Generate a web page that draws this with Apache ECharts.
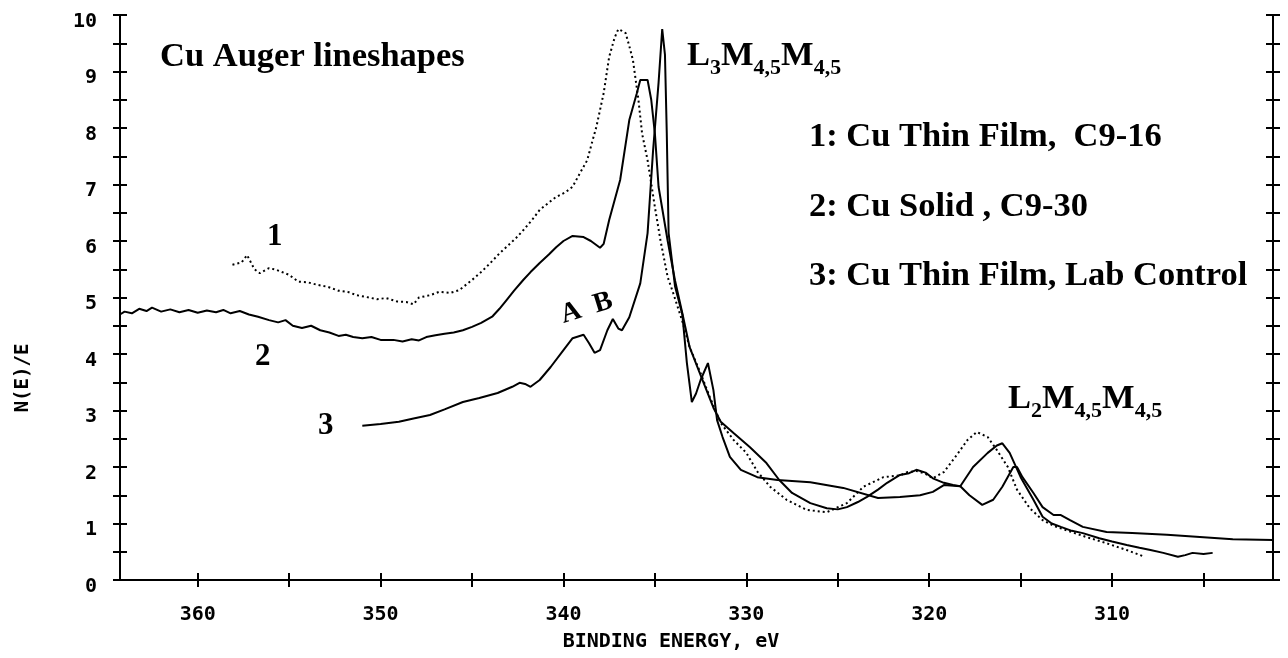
<!DOCTYPE html>
<html lang="en">
<head>
    <meta charset="UTF-8">
    <title>Cu Auger lineshapes</title>
    <script type="text/javascript" src="https://cdn.jsdelivr.net/npm/echarts@6.0.0/dist/echarts.min.js"></script>
    <style>
        html, body { margin: 0; padding: 0; background: #fff; }
    </style>
</head>
<body>
    <div id="main" style="width: 1288px; height: 658px"></div>
    <script>
        // binding energy (eV), N(E)/E
        var film1 = [
            [358.1, 5.58], [357.6, 5.62], [357.3, 5.75], [356.9, 5.5], [356.6, 5.43], [356.1, 5.52],
            [355.7, 5.49], [355.0, 5.4], [354.5, 5.28], [354.0, 5.27], [353.4, 5.22], [352.9, 5.19],
            [352.3, 5.12], [351.8, 5.1], [351.3, 5.04], [350.8, 5.01], [350.2, 4.97], [349.7, 4.99],
            [349.1, 4.93], [348.6, 4.92], [348.2, 4.88], [347.9, 5.0], [347.3, 5.04], [346.8, 5.1],
            [346.2, 5.08], [345.7, 5.13], [345.0, 5.31], [344.5, 5.45], [344.0, 5.61], [343.5, 5.78],
            [343.1, 5.9], [342.6, 6.05], [342.2, 6.19], [341.7, 6.38], [341.3, 6.55], [340.8, 6.68],
            [340.4, 6.78], [339.9, 6.86], [339.5, 6.96], [339.1, 7.2], [338.7, 7.43], [338.4, 7.79],
            [338.2, 8.02], [338.0, 8.32], [337.8, 8.62], [337.5, 9.26], [337.2, 9.6], [337.0, 9.75],
            [336.8, 9.72], [336.6, 9.68], [336.4, 9.45], [336.2, 9.2], [335.9, 8.5], [335.7, 7.9],
            [335.4, 7.43], [335.0, 6.6], [334.7, 6.02], [334.3, 5.36], [334.0, 5.08], [333.5, 4.58],
            [333.1, 4.12], [332.5, 3.66], [332.0, 3.24], [331.4, 2.78], [330.7, 2.48], [330.0, 2.25],
            [329.4, 1.92], [328.7, 1.65], [327.8, 1.42], [326.7, 1.24], [325.6, 1.2], [324.5, 1.36],
            [323.6, 1.65], [322.5, 1.82], [321.6, 1.85], [321.2, 1.91], [320.7, 1.93], [320.2, 1.88],
            [319.8, 1.8], [319.2, 1.91], [318.5, 2.21], [317.9, 2.48], [317.4, 2.62], [316.8, 2.53],
            [316.3, 2.3], [315.7, 2.0], [315.2, 1.6], [314.5, 1.27], [313.8, 1.06], [313.2, 0.96],
            [312.5, 0.88], [311.4, 0.76], [310.3, 0.65], [309.2, 0.53], [308.3, 0.42]
        ];

        var solid2 = [
            [364.3, 4.69], [364.0, 4.75], [363.6, 4.72], [363.2, 4.8], [362.8, 4.76], [362.5, 4.82],
            [362.0, 4.75], [361.5, 4.79], [361.0, 4.74], [360.5, 4.78], [360.0, 4.73], [359.5, 4.77],
            [359.0, 4.74], [358.6, 4.78], [358.2, 4.72], [357.7, 4.76], [357.2, 4.7], [356.7, 4.66],
            [356.1, 4.6], [355.6, 4.56], [355.2, 4.6], [354.8, 4.5], [354.3, 4.46], [353.8, 4.5],
            [353.3, 4.42], [352.8, 4.38], [352.3, 4.32], [351.9, 4.34], [351.5, 4.3], [351.0, 4.28],
            [350.5, 4.3], [350.0, 4.25], [349.3, 4.25], [348.8, 4.22], [348.3, 4.26], [347.9, 4.24],
            [347.5, 4.3], [347.0, 4.33], [346.5, 4.36], [346.0, 4.38], [345.5, 4.42], [345.0, 4.48],
            [344.5, 4.55], [343.9, 4.66], [343.5, 4.8], [343.1, 4.96], [342.7, 5.12], [342.2, 5.31],
            [341.8, 5.45], [341.3, 5.61], [340.8, 5.76], [340.4, 5.89], [340.0, 6.0], [339.5, 6.09],
            [338.9, 6.07], [338.5, 6.0], [338.0, 5.88], [337.8, 5.95], [337.5, 6.37], [336.9, 7.08],
            [336.4, 8.14], [336.0, 8.6], [335.8, 8.85], [335.4, 8.85], [335.2, 8.5], [335.0, 7.9],
            [334.8, 6.96], [334.3, 6.0], [333.9, 5.3], [333.5, 4.72], [333.1, 4.12], [332.4, 3.54],
            [331.8, 3.05], [331.4, 2.8], [330.7, 2.6], [329.8, 2.35], [328.9, 2.07], [328.2, 1.77],
            [327.5, 1.54], [326.5, 1.36], [325.6, 1.27], [325.0, 1.25], [324.5, 1.29], [323.9, 1.38],
            [323.4, 1.47], [322.8, 1.6], [322.3, 1.72], [321.6, 1.86], [321.1, 1.89], [320.7, 1.95],
            [320.2, 1.9], [319.8, 1.8], [319.2, 1.72], [318.7, 1.68], [318.3, 1.66], [317.6, 2.0],
            [316.8, 2.25], [316.3, 2.38], [316.0, 2.42], [315.6, 2.25], [315.0, 1.82], [314.3, 1.42],
            [313.8, 1.12], [313.3, 1.0], [312.8, 0.94], [312.2, 0.87], [311.6, 0.83], [310.7, 0.74],
            [310.0, 0.68], [309.2, 0.62], [308.5, 0.57], [307.9, 0.53], [307.2, 0.48], [306.4, 0.41],
            [306.0, 0.44], [305.6, 0.48], [305.0, 0.46], [304.5, 0.48]
        ];

        var lab3 = [
            [351.0, 2.73], [350.0, 2.76], [349.0, 2.8], [348.2, 2.86], [347.3, 2.92], [346.5, 3.02],
            [345.5, 3.15], [344.6, 3.22], [343.6, 3.31], [342.8, 3.42], [342.4, 3.49], [342.1, 3.47],
            [341.8, 3.42], [341.3, 3.54], [340.7, 3.77], [340.0, 4.07], [339.5, 4.28], [338.9, 4.34],
            [338.6, 4.19], [338.3, 4.02], [338.0, 4.07], [337.6, 4.42], [337.3, 4.62], [337.0, 4.45],
            [336.8, 4.42], [336.4, 4.65], [335.8, 5.25], [335.4, 6.14], [335.1, 7.6], [334.8, 8.8],
            [334.6, 9.75], [334.45, 9.3], [334.35, 7.9], [334.25, 6.14], [333.9, 5.2], [333.5, 4.7],
            [333.25, 3.84], [332.98, 3.15], [332.75, 3.3], [332.5, 3.54], [332.1, 3.84], [331.8, 3.36],
            [331.6, 2.83], [331.3, 2.53], [330.9, 2.18], [330.3, 1.95], [329.4, 1.82], [328.3, 1.77],
            [326.5, 1.73], [324.7, 1.63], [322.8, 1.45], [321.6, 1.47], [320.5, 1.5], [319.8, 1.56],
            [319.2, 1.68], [318.3, 1.66], [317.8, 1.5], [317.1, 1.33], [316.5, 1.42], [316.0, 1.65],
            [315.4, 2.0], [315.2, 2.0], [314.9, 1.82], [314.3, 1.54], [313.8, 1.29], [313.2, 1.15],
            [312.8, 1.15], [312.3, 1.06], [311.6, 0.94], [310.3, 0.85], [308.9, 0.83], [307.0, 0.8],
            [305.2, 0.76], [303.4, 0.72], [301.2, 0.71]
        ];

        var xLabelValues = [310, 320, 330, 340, 350, 360];
        var xTickValues = [305, 310, 315, 320, 325, 330, 335, 340, 345, 350, 355, 360];
        var yLabelValues = [0, 1, 2, 3, 4, 5, 6, 7, 8, 9, 10];
        var yTickValues = [0, 0.5, 1, 1.5, 2, 2.5, 3, 3.5, 4, 4.5, 5, 5.5, 6, 6.5, 7, 7.5, 8, 8.5, 9, 9.5, 10];

        var X_MIN = 301.2, X_MAX = 364.25;
        var AXIS_FONT = 'DejaVu Sans Mono';
        var MAIN_FONT = 'bold 34.5px "Liberation Serif"';
        var SUB_FONT = 'bold 22px "Liberation Serif"';

        var myChart = echarts.init(document.getElementById('main'));

        var ctx = document.createElement('canvas').getContext('2d');
        function textWidth(str, font) {
            ctx.font = font;
            return ctx.measureText(str).width;
        }

        function txt(x, y, text, font, align, rotation) {
            return {
                type: 'text', x: x, y: y, rotation: rotation || 0,
                style: { text: text, font: font, fill: '#000', align: align || 'left', verticalAlign: 'middle' }
            };
        }

        // L3M4,5M4,5 style labels with subscripts
        function subLabel(x, y, parts) {
            var els = [];
            var cx = x;
            parts.forEach(function (p) {
                var font = p[1] ? SUB_FONT : MAIN_FONT;
                els.push(txt(cx, p[1] ? y + 12 : y, p[0], font));
                cx += textWidth(p[0], font);
            });
            return els;
        }

        function xAxis(position, inside, showLine, showLabel) {
            return {
                type: 'value', min: X_MIN, max: X_MAX, inverse: true, position: position,
                axisLine: { show: showLine, lineStyle: { color: '#000', width: 2 } },
                axisTick: { show: true, inside: inside, length: 7, customValues: xTickValues, lineStyle: { color: '#000', width: 2 } },
                axisLabel: {
                    show: showLabel, customValues: xLabelValues, margin: 25,
                    color: '#000', fontFamily: AXIS_FONT, fontWeight: 'bold', fontSize: 20
                },
                splitLine: { show: false }
            };
        }

        function yAxis(position, inside, showLine, showLabel) {
            return {
                type: 'value', min: 0, max: 10, position: position,
                axisLine: { show: showLine, lineStyle: { color: '#000', width: 2 } },
                axisTick: { show: true, inside: inside, length: 7, customValues: yTickValues, lineStyle: { color: '#000', width: 2 } },
                axisLabel: {
                    show: showLabel, customValues: yLabelValues, margin: 23,
                    verticalAlign: 'top', lineHeight: 13,
                    color: '#000', fontFamily: AXIS_FONT, fontWeight: 'bold', fontSize: 20
                },
                splitLine: { show: false }
            };
        }

        var graphics = [
            txt(160, 57, 'Cu Auger lineshapes', MAIN_FONT),
            txt(809, 137, '1: Cu Thin Film,  C9-16', MAIN_FONT),
            txt(809, 207, '2: Cu Solid , C9-30', MAIN_FONT),
            txt(809, 276, '3: Cu Thin Film, Lab Control', MAIN_FONT),
            txt(267, 237, '1', 'bold 31px "Liberation Serif"'),
            txt(255, 357, '2', 'bold 31px "Liberation Serif"'),
            txt(318, 426, '3', 'bold 31px "Liberation Serif"'),
            txt(571, 313, 'A', 'bold 28px "Liberation Serif"', 'center', 0.3),
            txt(603, 303, 'B', 'bold 28px "Liberation Serif"', 'center', 0.3),
            txt(23, 378, 'N(E)/E', 'bold 19px "' + AXIS_FONT + '"', 'center', Math.PI / 2),
            txt(671, 642, 'BINDING ENERGY, eV', 'bold 20px "' + AXIS_FONT + '"', 'center')
        ];
        graphics = graphics.concat(subLabel(687, 56, [['L', 0], ['3', 1], ['M', 0], ['4,5', 1], ['M', 0], ['4,5', 1]]));
        graphics = graphics.concat(subLabel(1008, 399, [['L', 0], ['2', 1], ['M', 0], ['4,5', 1], ['M', 0], ['4,5', 1]]));

        myChart.setOption({
            animation: false,
            backgroundColor: '#fff',
            grid: { left: 120, right: 15, top: 15, bottom: 78 },
            xAxis: [
                xAxis('bottom', false, true, true),
                xAxis('bottom', true, false, false),
                xAxis('top', false, true, false),
                xAxis('top', true, false, false)
            ],
            yAxis: [
                yAxis('left', false, true, true),
                yAxis('left', true, false, false),
                yAxis('right', false, true, false),
                yAxis('right', true, false, false)
            ],
            graphic: graphics,
            series: [{
                name: 'Cu Thin Film, C9-16',
                type: 'line',
                data: film1,
                showSymbol: false,
                lineStyle: { color: '#000', width: 2, type: [2, 3] }
            }, {
                name: 'Cu Solid, C9-30',
                type: 'line',
                data: solid2,
                showSymbol: false,
                lineStyle: { color: '#000', width: 2 }
            }, {
                name: 'Cu Thin Film, Lab Control',
                type: 'line',
                data: lab3,
                showSymbol: false,
                lineStyle: { color: '#000', width: 2 }
            }]
        });
    </script>
</body>
</html>
